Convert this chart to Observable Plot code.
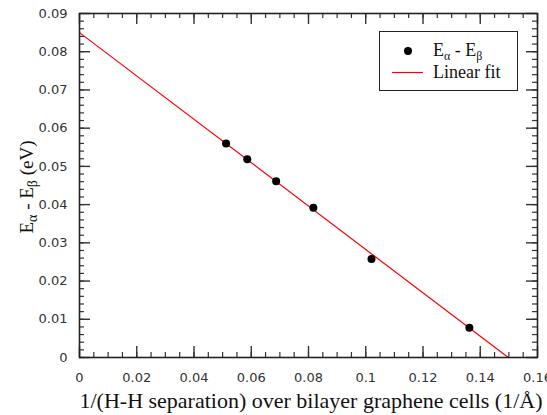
<!DOCTYPE html>
<html><head><meta charset="utf-8">
<script src="https://cdn.jsdelivr.net/npm/d3@7"></script>
<script src="https://cdn.jsdelivr.net/npm/@observablehq/plot@0.6"></script>
<style>body{margin:0;background:#fff} svg{display:block}</style>
</head><body><div id="chart"></div>
<script>
// data
const invSeparation = [0.0512, 0.0586, 0.0687, 0.0817, 0.1020, 0.1362];
const energyDiff    = [0.0560, 0.0519, 0.0461, 0.0392, 0.0258, 0.0078];
const fitX = [0, 0.1498];
const fitY = [0.0850, 0];
const xTicks = [0, 0.02, 0.04, 0.06, 0.08, 0.10, 0.12, 0.14, 0.16];
const xTickLabels = ["0", "0.02", "0.04", "0.06", "0.08", "0.1", "0.12", "0.14", "0.16"];
const yTicks = [0, 0.01, 0.02, 0.03, 0.04, 0.05, 0.06, 0.07, 0.08, 0.09];
const yTickLabels = ["0", "0.01", "0.02", "0.03", "0.04", "0.05", "0.06", "0.07", "0.08", "0.09"];
const xMinorTicks = d3.range(0, 32).map(i => i * 0.005);
const yMinorTicks = d3.range(0, 45).map(i => i * 0.002);

const W = 547, H = 415, mL = 79, mR = 10, mT = 13, mB = 58;
const pw = W - mL - mR, ph = H - mT - mB;
const tickColor = "#333";

const points = invSeparation.map((x, i) => ({x, y: energyDiff[i]}));
const fit = fitX.map((x, i) => ({x, y: fitY[i]}));

const chart = Plot.plot({
  width: W, height: H,
  marginLeft: mL, marginRight: mR, marginTop: mT, marginBottom: mB,
  style: {fontFamily: "DejaVu Sans", fontSize: "13px", background: "#fff"},
  x: {domain: [0, 0.16], axis: null},
  y: {domain: [0, 0.09], axis: null},
  marks: [
    // minor ticks (inward, all four sides)
    Plot.tickX(xMinorTicks, {x: d => d, insetTop: ph - 5, stroke: tickColor, strokeWidth: 1.2}),
    Plot.tickX(xMinorTicks, {x: d => d, insetBottom: ph - 5, stroke: tickColor, strokeWidth: 1.2}),
    Plot.tickY(yMinorTicks, {y: d => d, insetRight: pw - 5, stroke: tickColor, strokeWidth: 1.2}),
    Plot.tickY(yMinorTicks, {y: d => d, insetLeft: pw - 5, stroke: tickColor, strokeWidth: 1.2}),
    // major ticks
    Plot.tickX(xTicks, {x: d => d, insetTop: ph - 11, stroke: tickColor, strokeWidth: 1.4}),
    Plot.tickX(xTicks, {x: d => d, insetBottom: ph - 11, stroke: tickColor, strokeWidth: 1.4}),
    Plot.tickY(yTicks, {y: d => d, insetRight: pw - 11, stroke: tickColor, strokeWidth: 1.4}),
    Plot.tickY(yTicks, {y: d => d, insetLeft: pw - 11, stroke: tickColor, strokeWidth: 1.4}),
    // tick labels
    Plot.text(xTicks, {x: d => d, text: (d, i) => xTickLabels[i], frameAnchor: "bottom", lineAnchor: "top", dy: 15, fill: "#333"}),
    Plot.text(yTicks, {y: d => d, text: (d, i) => yTickLabels[i], frameAnchor: "left", textAnchor: "end", dx: -12, fill: "#333"}),
    // fit line and data
    Plot.line(fit, {x: "x", y: "y", stroke: "#ff0000", strokeWidth: 1.2}),
    Plot.dot(points, {x: "x", y: "y", r: 4, fill: "#000", stroke: "none"}),
    Plot.frame({stroke: "#222", strokeWidth: 1.6})
  ]
});

document.getElementById("chart").appendChild(chart);

const svg = d3.select(chart);
const serif = "'Liberation Serif', 'Times New Roman', serif";

// x axis title
svg.append("text")
  .attr("x", 311).attr("y", 408)
  .attr("text-anchor", "middle")
  .attr("font-family", serif).attr("font-size", 22).attr("fill", "#111")
  .text("1/(H-H separation) over bilayer graphene cells (1/Å)");

// subscripted label E_alpha - E_beta
function subLabel(sel, sub) {
  sel.append("tspan").text("E");
  sel.append("tspan").attr("font-size", sub).attr("dy", 4).text("α");
  sel.append("tspan").attr("dy", -4).text(" - E");
  sel.append("tspan").attr("font-size", sub).attr("dy", 4).text("β");
}
const yt = svg.append("text")
  .attr("transform", `translate(33,${mT + ph / 2 + 2}) rotate(-90)`)
  .attr("text-anchor", "middle")
  .attr("font-family", serif).attr("font-size", 19).attr("fill", "#111");
subLabel(yt, 14);
yt.append("tspan").attr("dy", -4).text(" (eV)");

// legend
const lg = svg.append("g");
lg.append("rect").attr("x", 379.5).attr("y", 31.5).attr("width", 138).attr("height", 59)
  .attr("fill", "#fff").attr("stroke", "#222").attr("stroke-width", 1);
lg.append("circle").attr("cx", 408).attr("cy", 51).attr("r", 4).attr("fill", "#000");
lg.append("line").attr("x1", 392).attr("x2", 423).attr("y1", 72.5).attr("y2", 72.5)
  .attr("stroke", "#ff0000").attr("stroke-width", 1.2);
const l1 = lg.append("text").attr("x", 433).attr("y", 56).attr("text-anchor", "start")
  .attr("font-family", serif).attr("font-size", 18).attr("fill", "#111");
subLabel(l1, 12);
lg.append("text").attr("x", 433).attr("y", 78).attr("text-anchor", "start")
  .attr("font-family", serif).attr("font-size", 18).attr("fill", "#111")
  .text("Linear fit");
</script>
</body></html>
